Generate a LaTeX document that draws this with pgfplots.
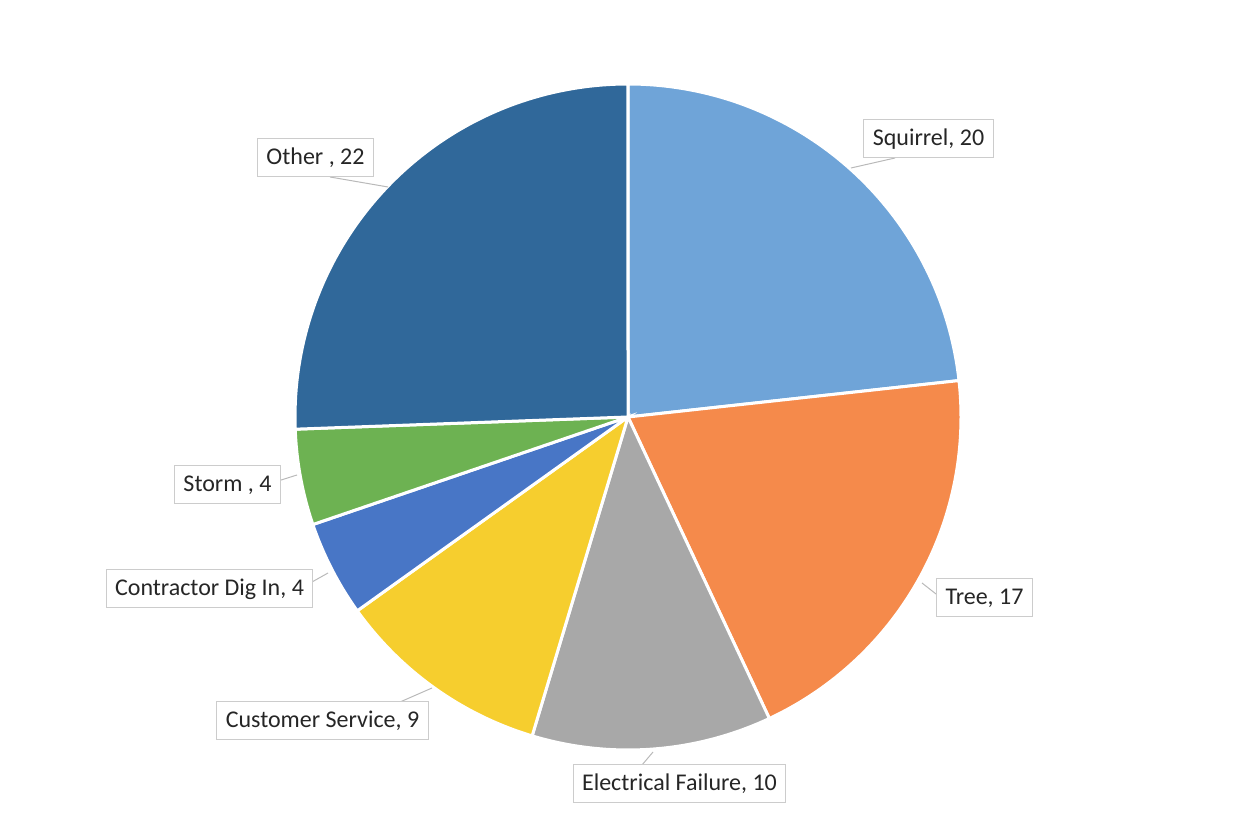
\documentclass[border=0pt]{standalone}
\usepackage{pgfplots}
\pgfplotsset{compat=1.18}
\usepackage{fontspec}
\setmainfont{Carlito}
\definecolor{cSquirrel}{HTML}{6FA4D8}
\definecolor{cTree}{HTML}{F58A4B}
\definecolor{cElec}{HTML}{A8A8A8}
\definecolor{cCust}{HTML}{F6CE2E}
\definecolor{cContr}{HTML}{4876C6}
\definecolor{cStorm}{HTML}{6DB252}
\definecolor{cOther}{HTML}{30689A}
\begin{document}
\begin{tikzpicture}
\begin{axis}[
  scale only axis, width=626pt, height=417pt,
  xmin=0, xmax=1252, ymin=0, ymax=834,
  hide axis, clip=false,
]
% slices: cumulative value ranges (total 86), clockwise from top
% Squirrel 20, Tree 17, Electrical Failure 10, Customer Service 9,
% Contractor Dig In 4, Storm 4, Other 22
\addplot[fill=cSquirrel, draw=white, line width=1.5pt, domain=0:20, samples=80, variable=\t]
  ({628+333*cos(90-360*t/86)},{417+333*sin(90-360*t/86)}) -- (axis cs:628,417) -- cycle;
\addplot[fill=cTree, draw=white, line width=1.5pt, domain=20:37, samples=80, variable=\t]
  ({628+333*cos(90-360*t/86)},{417+333*sin(90-360*t/86)}) -- (axis cs:628,417) -- cycle;
\addplot[fill=cElec, draw=white, line width=1.5pt, domain=37:47, samples=60, variable=\t]
  ({628+333*cos(90-360*t/86)},{417+333*sin(90-360*t/86)}) -- (axis cs:628,417) -- cycle;
\addplot[fill=cCust, draw=white, line width=1.5pt, domain=47:56, samples=60, variable=\t]
  ({628+333*cos(90-360*t/86)},{417+333*sin(90-360*t/86)}) -- (axis cs:628,417) -- cycle;
\addplot[fill=cContr, draw=white, line width=1.5pt, domain=56:60, samples=30, variable=\t]
  ({628+333*cos(90-360*t/86)},{417+333*sin(90-360*t/86)}) -- (axis cs:628,417) -- cycle;
\addplot[fill=cStorm, draw=white, line width=1.5pt, domain=60:64, samples=30, variable=\t]
  ({628+333*cos(90-360*t/86)},{417+333*sin(90-360*t/86)}) -- (axis cs:628,417) -- cycle;
\addplot[fill=cOther, draw=white, line width=1.5pt, domain=64:86, samples=80, variable=\t]
  ({628+333*cos(90-360*t/86)},{417+333*sin(90-360*t/86)}) -- (axis cs:628,417) -- cycle;
% leader lines
\addplot[gray!55, line width=0.5pt] coordinates {(895,676) (851,666)};
\addplot[gray!55, line width=0.5pt] coordinates {(936,240) (922,251)};
\addplot[gray!55, line width=0.5pt] coordinates {(642,69) (653,82)};
\addplot[gray!55, line width=0.5pt] coordinates {(400,132) (432,146)};
\addplot[gray!55, line width=0.5pt] coordinates {(312,252) (328,261)};
\addplot[gray!55, line width=0.5pt] coordinates {(278,353) (297,359)};
\addplot[gray!55, line width=0.5pt] coordinates {(330,657) (388,647)};
% labels
\tikzset{lbl/.style={draw=gray!40, fill=white, font=\fontsize{12}{14}\selectfont, text=black!85, inner xsep=4.5pt, minimum height=19pt, line width=0.5pt}}
\node[lbl] at (axis cs:928.5,695) {Squirrel, 20};
\node[lbl] at (axis cs:984.5,236) {Tree, 17};
\node[lbl] at (axis cs:679.5,50) {Electrical Failure, 10};
\node[lbl] at (axis cs:322.5,113) {Customer Service, 9};
\node[lbl] at (axis cs:209.5,245) {Contractor Dig In, 4};
\node[lbl] at (axis cs:227.5,349) {Storm , 4};
\node[lbl] at (axis cs:315.5,676) {Other , 22};
\end{axis}
\path[use as bounding box] (0,0) rectangle (626pt,417pt);
\end{tikzpicture}
\end{document}
